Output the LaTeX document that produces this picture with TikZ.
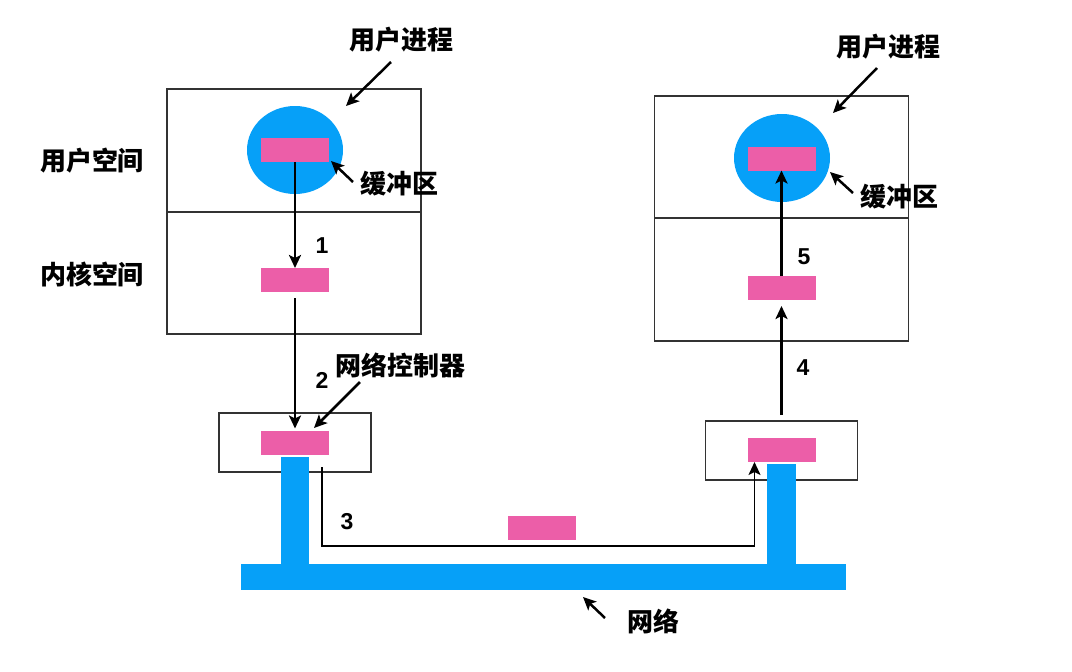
\documentclass[tikz,border=0pt]{standalone}
\usepackage{fontspec}
\usepackage{xcolor}
\usetikzlibrary{shapes.geometric, arrows.meta, positioning, calc}
\setmainfont{Liberation Sans}
\newfontfamily\cjk{Noto Sans CJK SC}
\definecolor{BufBlue}{HTML}{06A0F8}
\definecolor{DataPink}{HTML}{EC5EA8}
\definecolor{FrameGray}{HTML}{333333}
\tikzset{
    % Text labels
    every node/.style={font=\cjk\bfseries\fontsize{26}{30}\selectfont},
    % Address space box
    space/.style={
        rectangle,
        draw=FrameGray,
        line width=1.2pt,
        inner sep=0pt,
        outer sep=0pt,
        minimum width=254pt
    },
    % Network controller box
    nic/.style={
        rectangle,
        draw=FrameGray,
        line width=1.2pt,
        inner sep=0pt,
        outer sep=0pt,
        minimum width=152pt,
        minimum height=59pt
    },
    % Buffer circle
    buffer/.style={
        ellipse,
        fill=BufBlue,
        inner sep=0pt,
        minimum width=96pt,
        minimum height=88pt
    },
    % Data block
    packet/.style={
        rectangle,
        fill=DataPink,
        inner sep=0pt,
        outer sep=0pt,
        minimum width=68pt,
        minimum height=24pt
    },
    % Step number
    stepno/.style={
        font=\bfseries\fontsize{23}{27}\selectfont
    },
    % Arrow style
    arrow/.style={
        -{Stealth[length=13pt, width=12pt, inset=3pt]},
        line width=2.5pt,
        color=black
    }
}

\begin{document}
\begin{tikzpicture}[x=1pt, y=-1pt]
        \useasboundingbox (0,0) rectangle (1072,672);

        % Left host
        \node (usL) [space, minimum height=123pt] at (294,150.5) {};
        \node (ksL) [space, minimum height=122pt, below=0pt of usL] {};
        \node (bufL) [buffer] at (295,150) {};
        \node (pbufL) [packet] at (295,150) {};
        \node (pkL) [packet] at (295,280) {};
        \node (nicL) [nic] at (295,442.5) {};
        \node (pnL) [packet] at (295,442.5) {};

        % Right host
        \node (usR) [space, minimum height=122pt] at (781.5,157) {};
        \node (ksR) [space, minimum height=123pt, below=0pt of usR] {};
        \node (bufR) [buffer] at (782,158) {};
        \node (pbufR) [packet] at (781.5,158.5) {};
        \node (pkR) [packet] at (781.5,288) {};
        \node (nicR) [nic] at (781.5,450.5) {};
        \node (pnR) [packet] at (781.5,450) {};

        % Network cable
        \fill [BufBlue] (281,457) rectangle (309,565);
        \fill [BufBlue] (767,464) rectangle (796,565);
        \fill [BufBlue] (241,564) rectangle (846,590);
        \node (pwire) [packet] at (541.5,527.5) {};

        % Data path
        \coordinate (s3) at (322,467);
        \coordinate (w3) at (540,546);
        \coordinate (t3) at ($(pnR.south west)+(7,0)$);
        \draw [arrow] (pbufL.south) -- (pkL.north);
        \draw [arrow, shorten <=6pt, shorten >=2pt] (pkL.south) -- (pnL.north);
        \draw [arrow, line width=1.8pt] (s3) |- (w3) -| (t3);
        \draw [arrow, shorten <=6pt, shorten >=6pt] (nicR.north) -- (pkR.south);
        \draw [arrow] (pkR.north) -- (pbufR.south);

        \node (n1) [stepno] at (322,246) {1};
        \node (n2) [stepno] at (322,380) {2};
        \node (n3) [stepno] at (347,522) {3};
        \node (n4) [stepno] at (803,368) {4};
        \node (n5) [stepno] at (804,257) {5};

        % Labels
        \node (lus) at (92,161) {用户空间};
        \node (lks) at (92,274) {内核空间};
        \node (procL) at (401,40) {用户进程};
        \node (procR) at (888,47) {用户进程};
        \node (lbufL) at (399,184) {缓冲区};
        \node (lbufR) at (899,197) {缓冲区};
        \node (lnic) at (400,365) {网络控制器};
        \node (lnet) at (653,621) {网络};

        \coordinate (aP1) at (391,62);  \coordinate (bP1) at (346,106);
        \coordinate (aP2) at (877,68);  \coordinate (bP2) at (833,113);
        \coordinate (aB1) at (353,182); \coordinate (bB1) at (331,161);
        \coordinate (aB2) at (853,193); \coordinate (bB2) at (830,172);
        \coordinate (aN) at (360,382);  \coordinate (bN) at (314,428);
        \coordinate (aW) at (605,618);  \coordinate (bW) at (583,597);
        \draw [arrow] (aP1) -- (bP1);
        \draw [arrow] (aP2) -- (bP2);
        \draw [arrow] (aB1) -- (bB1);
        \draw [arrow] (aB2) -- (bB2);
        \draw [arrow] (aN) -- (bN);
        \draw [arrow] (aW) -- (bW);
    \end{tikzpicture}
\end{document}
